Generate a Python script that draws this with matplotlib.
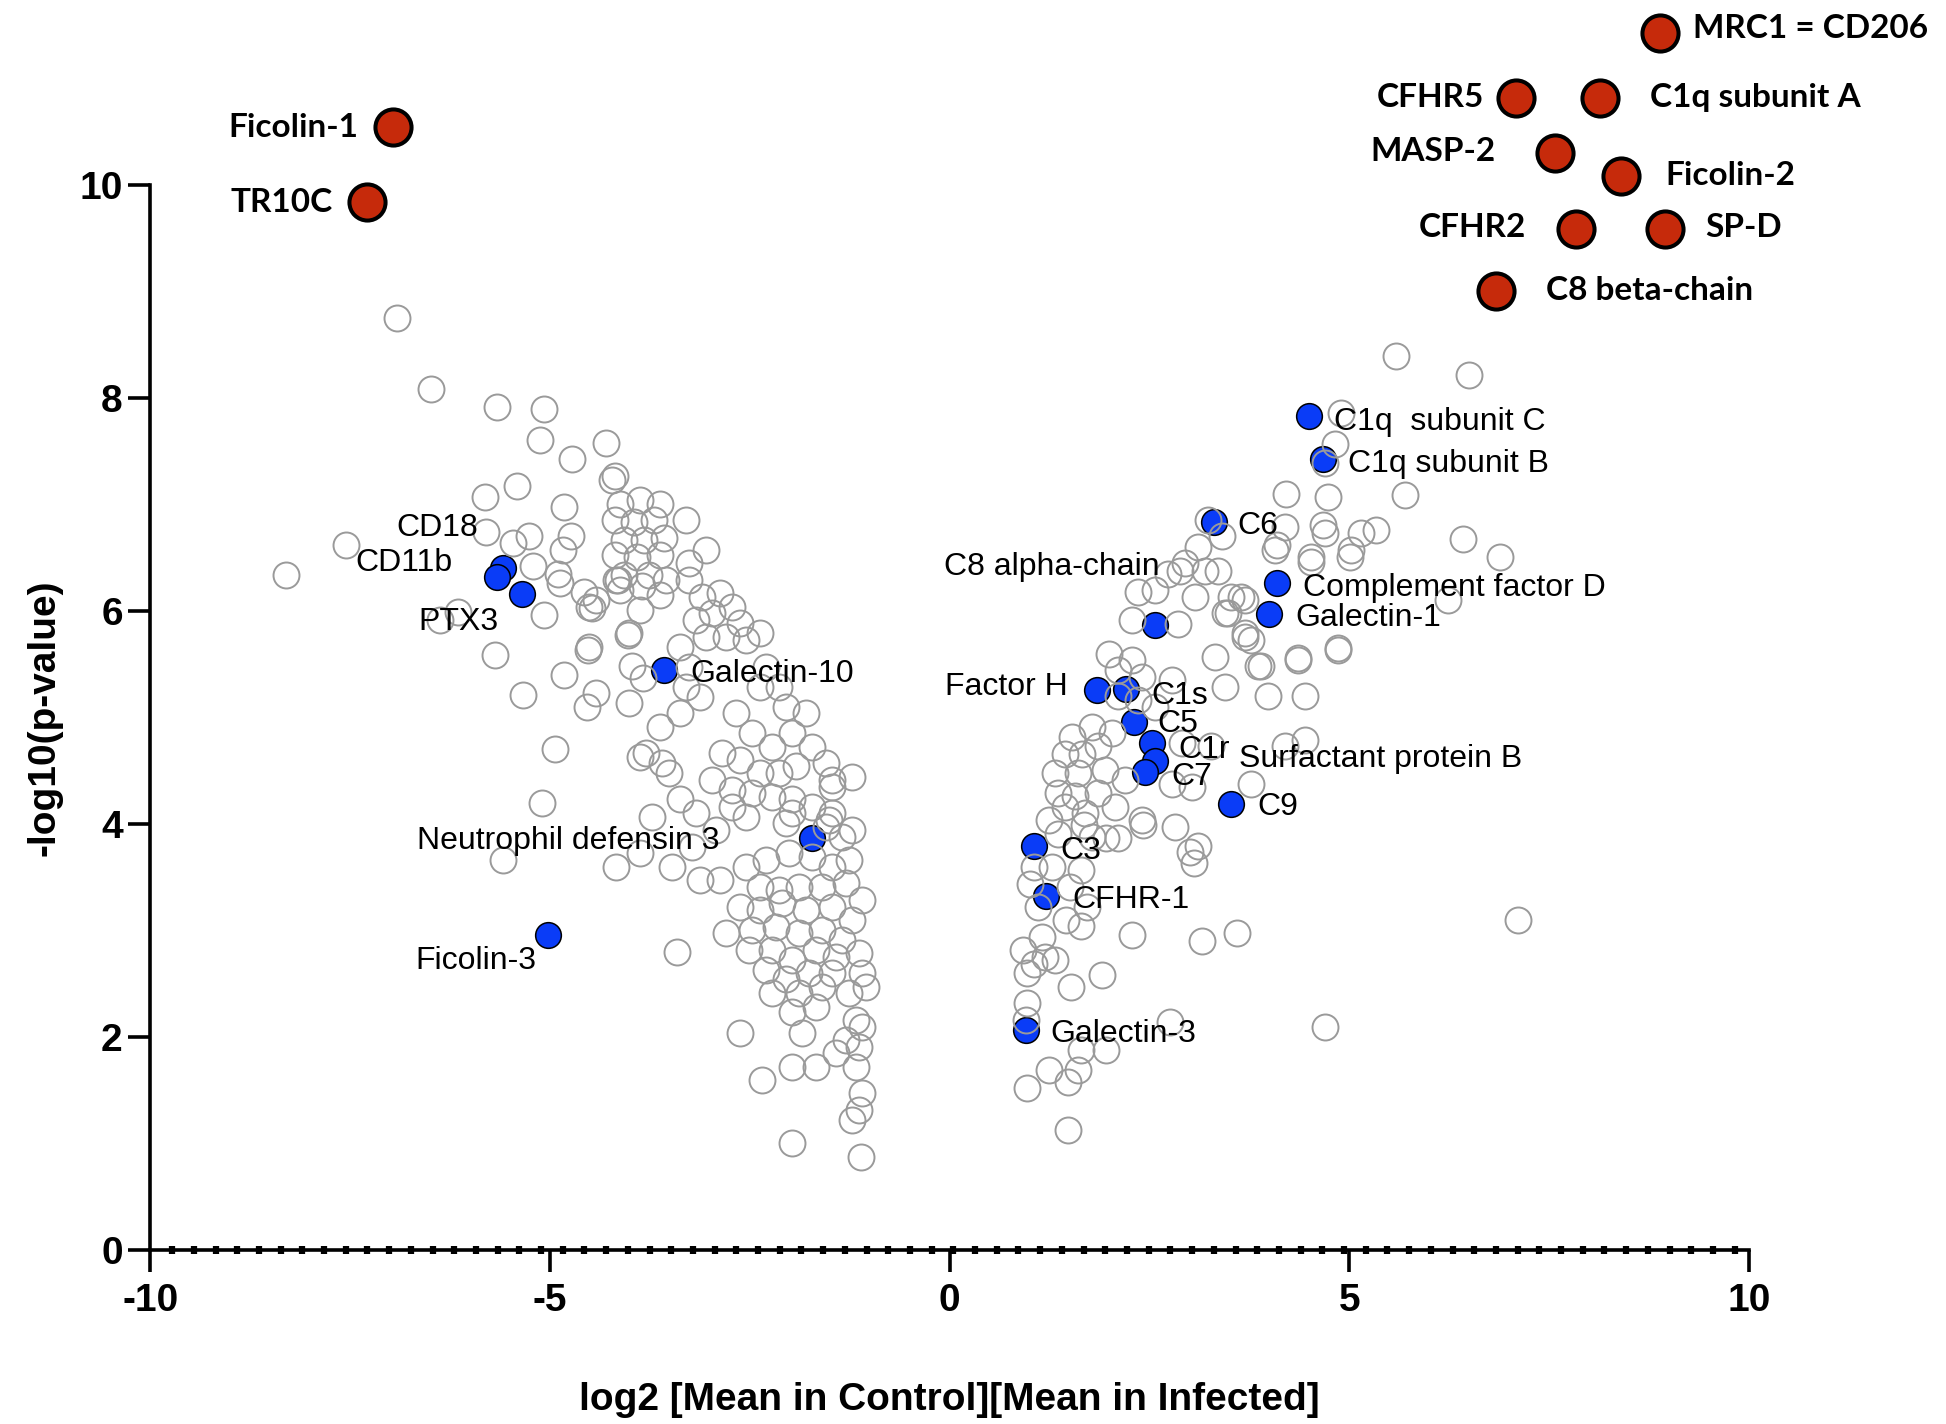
import matplotlib
matplotlib.use("Agg")
import matplotlib.pyplot as plt
import numpy as np
from matplotlib.ticker import FixedLocator

plt.rcParams['font.family'] = ['Liberation Sans', 'DejaVu Sans']
plt.rcParams['axes.unicode_minus'] = False

# ---- data (log2 fold change, -log10 p) ----
grey_points = [
    # left cluster, upper / outer
    (-6.91, 8.75), (-6.49, 8.08), (-5.66, 7.92), (-5.08, 7.90), (-5.13, 7.61), (-4.30, 7.58),
    (-4.72, 7.43), (-4.19, 7.27), (-5.41, 7.17), (-5.81, 7.07), (-4.82, 6.98), (-7.55, 6.62),
    (-8.31, 6.34), (-5.80, 6.74), (-5.26, 6.70), (-5.46, 6.64), (-4.74, 6.70), (-4.84, 6.57),
    (-4.90, 6.35), (-5.21, 6.42), (-4.57, 6.18), (-4.88, 6.26), (-5.07, 5.96), (-4.47, 6.03),
    (-4.42, 6.10), (-4.15, 6.29), (-4.02, 5.77), (-4.53, 5.63), (-5.69, 5.59), (-6.38, 5.92),
    (-6.15, 5.99), (-4.82, 5.40), (-3.97, 5.48), (-3.84, 5.37), (-5.34, 5.21), (-4.42, 5.23),
    (-4.13, 7.00), (-3.88, 7.04), (-3.63, 7.00), (-4.19, 6.85), (-3.95, 6.84), (-3.70, 6.85),
    (-4.07, 6.67), (-3.82, 6.67), (-3.57, 6.69), (-4.19, 6.53), (-3.91, 6.51), (-3.63, 6.53),
    (-4.07, 6.34), (-3.76, 6.34), (-4.13, 6.20), (-3.63, 6.15), (-3.88, 6.01), (-4.22, 7.23),
    # left band
    (-3.30, 6.85), (-3.05, 6.57), (-3.26, 6.45), (-4.17, 6.29), (-3.85, 6.23), (-3.55, 6.29),
    (-3.26, 6.29), (-3.10, 6.13), (-2.88, 6.17), (-2.72, 6.04), (-2.97, 5.98), (-3.17, 5.92),
    (-2.63, 5.89), (-2.38, 5.79), (-2.55, 5.73), (-2.80, 5.76), (-3.05, 5.76), (-4.01, 5.79),
    (-4.51, 6.04), (-4.51, 5.66), (-4.54, 5.10), (-4.01, 5.14), (-3.38, 5.66), (-3.26, 5.47),
    (-3.30, 5.29), (-3.13, 5.19), (-3.38, 5.04), (-3.63, 4.91), (-3.80, 4.67), (-3.60, 4.57),
    (-3.51, 4.48), (-2.30, 5.47), (-2.13, 5.29), (-2.05, 5.10), (-1.80, 5.04), (-2.38, 5.29),
    (-2.67, 5.04), (-2.47, 4.85), (-2.22, 4.72), (-1.97, 4.85), (-1.72, 4.72), (-1.55, 4.57),
    (-1.47, 4.41), (-1.92, 4.54), (-2.13, 4.48), (-2.38, 4.48), (-2.63, 4.60), (-2.85, 4.67),
    (-2.97, 4.41), (-2.72, 4.32), (-2.47, 4.29), (-2.22, 4.25), (-1.97, 4.23), (-1.72, 4.16),
    (-1.47, 4.10), (-3.38, 4.23), (-3.17, 4.10), (-2.55, 4.07), (-2.05, 4.01), (-1.55, 3.97),
    (-1.22, 3.94), (-1.22, 4.44), (-4.94, 4.70), (-3.88, 4.63),
    # left lower
    (-5.10, 4.20), (-5.59, 3.66), (-4.17, 3.60), (-3.72, 4.07), (-3.88, 3.73), (-3.47, 3.60),
    (-3.13, 3.47), (-2.88, 3.47), (-3.22, 3.78), (-2.92, 3.94), (-2.72, 4.16), (-1.97, 4.10),
    (-1.47, 4.35), (-1.51, 4.04), (-1.35, 3.88), (-1.26, 3.66), (-1.47, 3.60), (-1.72, 3.69),
    (-2.01, 3.73), (-2.30, 3.66), (-2.55, 3.60), (-2.38, 3.41), (-2.13, 3.38), (-1.89, 3.41),
    (-1.60, 3.41), (-1.30, 3.45), (-1.10, 3.29), (-2.63, 3.22), (-2.38, 3.19), (-2.10, 3.26),
    (-1.80, 3.19), (-1.47, 3.22), (-1.22, 3.10), (-2.80, 2.98), (-2.47, 3.00), (-2.17, 3.03),
    (-1.89, 2.98), (-1.60, 3.00), (-1.35, 2.91), (-1.14, 2.79), (-2.51, 2.82), (-2.22, 2.82),
    (-1.67, 2.82), (-1.42, 2.75), (-1.97, 2.72), (-2.30, 2.63), (-2.05, 2.54), (-1.76, 2.60),
    (-1.47, 2.60), (-1.10, 2.60), (-2.22, 2.41), (-1.89, 2.41), (-1.60, 2.47), (-1.26, 2.41),
    (-1.05, 2.47), (-1.97, 2.23), (-1.67, 2.28), (-1.17, 2.16), (-1.10, 2.09), (-1.85, 2.04),
    (-1.30, 1.97), (-1.42, 1.85), (-1.14, 1.91), (-1.97, 1.72), (-1.67, 1.72), (-1.17, 1.72),
    (-1.10, 1.47), (-1.14, 1.31), (-1.22, 1.22), (-2.35, 1.60), (-2.63, 2.04), (-3.41, 2.80),
    (-1.97, 1.00), (-1.11, 0.87),
    # right cluster
    (3.11, 6.60), (2.94, 6.45), (3.19, 6.38), (2.73, 6.35), (2.88, 6.38), (2.57, 6.20),
    (3.07, 6.13), (2.36, 6.18), (2.28, 5.92), (2.86, 5.88), (1.99, 5.60), (2.28, 5.54),
    (2.11, 5.45), (2.40, 5.38), (2.78, 5.35), (2.11, 5.20), (2.36, 5.16), (2.57, 5.10),
    (3.52, 6.13), (3.69, 6.10), (3.48, 5.98), (3.69, 5.79), (3.77, 5.73), (3.32, 5.57),
    (3.90, 5.48), (4.36, 5.54), (4.86, 5.63), (3.44, 5.29), (3.98, 5.20), (4.44, 5.20),
    (4.52, 6.51), (4.69, 6.73), (5.02, 6.57), (4.07, 6.57), (4.19, 6.79), (3.40, 6.70),
    (3.23, 6.85), (1.53, 4.82), (1.78, 4.91), (1.44, 4.66), (1.65, 4.66), (1.86, 4.73),
    (2.03, 4.85), (1.32, 4.48), (1.61, 4.48), (1.94, 4.51), (2.19, 4.41), (1.36, 4.29),
    (1.57, 4.26), (1.86, 4.29), (1.44, 4.16), (1.69, 4.10), (2.07, 4.16), (2.40, 4.04),
    (2.82, 3.97), (3.11, 3.79), (1.24, 4.04), (1.78, 3.88), (2.90, 4.76), (3.27, 4.73),
    (3.03, 4.35), (3.77, 4.38), (4.19, 4.73), (4.44, 4.79), (2.78, 4.38),
    (5.58, 8.39), (6.49, 8.22), (4.89, 7.86), (4.82, 7.57), (4.69, 7.39), (4.21, 7.10),
    (4.73, 7.07), (5.69, 7.09), (4.67, 6.81), (5.15, 6.73), (5.33, 6.76), (6.42, 6.68),
    (6.89, 6.51), (4.09, 6.62), (4.52, 6.46), (5.01, 6.51), (6.23, 6.10), (3.65, 6.13),
    (3.44, 5.98), (3.69, 5.76), (4.86, 5.65), (4.36, 5.56), (3.86, 5.48), (3.36, 6.38),
    (1.35, 3.91), (1.68, 3.99), (1.95, 3.87), (2.10, 3.87), (2.42, 3.99), (3.00, 3.74),
    (3.06, 3.63), (1.06, 3.60), (1.28, 3.60), (1.64, 3.57), (1.01, 3.44), (1.50, 3.41),
    (1.72, 3.22), (1.10, 3.22), (1.46, 3.10), (1.64, 3.04), (2.28, 2.96), (3.15, 2.90),
    (3.59, 2.98), (7.11, 3.10), (1.15, 2.94), (0.92, 2.82), (1.19, 2.75), (1.32, 2.72),
    (1.06, 2.69), (1.91, 2.58), (1.52, 2.47), (0.97, 2.60), (0.97, 2.32), (0.95, 2.16),
    (2.75, 2.14), (4.69, 2.09), (1.64, 1.88), (1.95, 1.88), (1.24, 1.69), (1.61, 1.69),
    (0.97, 1.52), (1.48, 1.58), (1.48, 1.13),
]

blue_names = ["CD18", "CD11b", "PTX3", "Galectin-10", "Neutrophil defensin 3", "Ficolin-3",
              "C1q  subunit C", "C1q subunit B", "C6", "C8 alpha-chain", "Complement factor D",
              "Galectin-1", "Factor H", "C1s", "C5", "C1r", "Surfactant protein B", "C7",
              "C9", "C3", "CFHR-1", "Galectin-3"]
blue_x = [-5.59, -5.67, -5.35, -3.57, -1.72, -5.02,
          4.50, 4.67, 3.30, 2.57, 4.10,
          3.99, 1.84, 2.21, 2.30, 2.53, 2.57, 2.44,
          3.52, 1.05, 1.21, 0.95]
blue_y = [6.40, 6.32, 6.16, 5.45, 3.87, 2.96,
          7.83, 7.43, 6.84, 5.87, 6.26,
          5.97, 5.26, 5.27, 4.96, 4.76, 4.59, 4.49,
          4.19, 3.79, 3.32, 2.07]

red_names = ["Ficolin-1", "TR10C", "MRC1 = CD206", "CFHR5", "C1q subunit A", "MASP-2",
             "Ficolin-2", "CFHR2", "SP-D", "C8 beta-chain"]
red_x = [-6.97, -7.29, 8.88, 7.09, 8.13, 7.57, 8.40, 7.83, 8.95, 6.83]
red_y = [10.54, 9.84, 11.43, 10.82, 10.82, 10.30, 10.08, 9.59, 9.59, 9.00]

# label offsets in points (style, not data)
blue_offsets = {
    "CD18": (-18, 29, 'right'), "CD11b": (-32, 10, 'right'), "PTX3": (-17, -20, 'right'),
    "Galectin-10": (19, -3.5, 'left'), "Neutrophil defensin 3": (-67, -2.5, 'right'),
    "Ficolin-3": (-9, -19, 'right'), "C1q  subunit C": (18, -4, 'left'),
    "C1q subunit B": (18, -3.5, 'left'), "C6": (17, -3.5, 'left'),
    "C8 alpha-chain": (3, 42, 'right'), "Complement factor D": (18.5, -3.5, 'left'),
    "Galectin-1": (19, -3, 'left'), "Factor H": (-21, 2, 'right'), "C1s": (18, -5, 'left'),
    "C5": (17, -1.5, 'left'), "C1r": (19, -5, 'left'), "Surfactant protein B": (60, 1.5, 'left'),
    "C7": (19, -3.5, 'left'), "C9": (19, -2, 'left'), "C3": (19, -3.5, 'left'),
    "CFHR-1": (19, -2.5, 'left'), "Galectin-3": (18, -3.5, 'left'),
}
red_offsets = {
    "Ficolin-1": (-25, 0, 'right'), "TR10C": (-25, 0, 'right'), "MRC1 = CD206": (24, 3, 'left'),
    "CFHR5": (-23, 0, 'right'), "C1q subunit A": (36, 0, 'left'), "MASP-2": (-43, 1, 'right'),
    "Ficolin-2": (32, 1, 'left'), "CFHR2": (-36, 1, 'right'), "SP-D": (29, 1, 'left'),
    "C8 beta-chain": (36, 1, 'left'),
}

fig = plt.figure(figsize=(19.46, 14.24), dpi=100)
ax = fig.add_axes([0.0773, 0.1222, 0.8215, 0.8778])
ax.set_xlim(-10, 10)
ax.set_ylim(0, 11.737)

gx, gy = zip(*grey_points)
ax.plot(blue_x, blue_y, 'o', ms=18.5, mfc='#0a3cf7', mec='black', mew=1.1,
        clip_on=False, zorder=3)
ax.plot(gx, gy, 'o', ms=18.7, mfc='none', mec='#9a9a9a', mew=1.4, clip_on=False, zorder=4)
ax.plot(red_x, red_y, 'o', ms=26, mfc='#c62a0b', mec='black', mew=2.9,
        clip_on=False, zorder=5)

for name, x, y in zip(blue_names, blue_x, blue_y):
    dx, dy, ha = blue_offsets[name]
    ax.annotate(name, (x, y), xytext=(dx, dy), textcoords='offset points',
                ha=ha, va='center', fontsize=23, color='black', zorder=6,
                annotation_clip=False)

for name, x, y in zip(red_names, red_x, red_y):
    dx, dy, ha = red_offsets[name]
    ax.annotate(name, (x, y), xytext=(dx, dy), textcoords='offset points',
                ha=ha, va='center', fontsize=24, fontweight='bold',
                family=['Lato', 'DejaVu Sans'], color='black', zorder=6,
                annotation_clip=False)

# axes styling
for side in ['top', 'right']:
    ax.spines[side].set_visible(False)
ax.spines['left'].set_bounds(0, 10)
ax.spines['bottom'].set_bounds(-10, 10)
ax.spines['left'].set_linewidth(2.6)
ax.spines['bottom'].set_linewidth(2.6)

ax.set_xticks([-10, -5, 0, 5, 10])
ax.set_xticklabels(['-10', '-5', '0', '5', '10'])
ax.set_yticks([0, 2, 4, 6, 8, 10])
ax.set_yticklabels(['0', '2', '4', '6', '8', '10'])
ax.xaxis.set_minor_locator(FixedLocator(np.arange(-10 + 0.2715, 10, 0.2715)))
ax.tick_params(axis='both', which='major', length=16, width=2.6, direction='out',
               labelsize=28)
ax.tick_params(axis='x', which='major', pad=8)
ax.tick_params(axis='y', which='major', pad=4)
ax.tick_params(axis='x', which='minor', length=6, width=4.5, direction='inout')
for lab in ax.get_xticklabels() + ax.get_yticklabels():
    lab.set_fontweight('bold')

ax.set_xlabel('log2 [Mean in Control][Mean in Infected]', fontsize=28, fontweight='bold')
ax.set_ylabel('-log10(p-value)', fontsize=28, fontweight='bold')
ax.xaxis.set_label_coords(0.5, -0.12)
ax.xaxis.label.set_va('center')
ax.yaxis.set_label_coords(-0.0665, 0.426)
ax.yaxis.label.set_va('center')

fig.savefig('out.png', dpi=100)
